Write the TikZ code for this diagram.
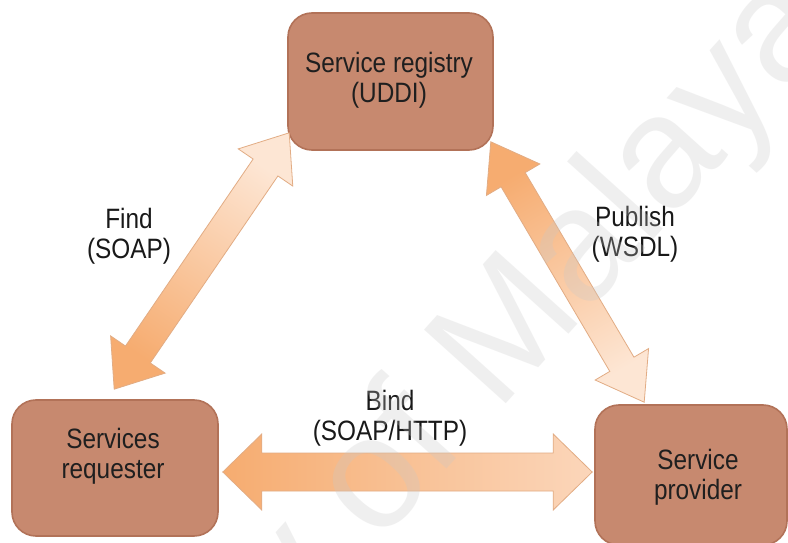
\documentclass[tikz,border=0pt]{standalone}
\usepackage{fontspec}
\setmainfont{Liberation Sans}[FakeStretch=0.87]
\newfontfamily\wmfont{Liberation Sans}
\usetikzlibrary{calc}

\definecolor{boxfill}{RGB}{199,137,111}
\definecolor{boxedge}{RGB}{178,114,88}
\definecolor{arrowedge}{RGB}{226,172,132}
\definecolor{orangedeep}{RGB}{246,172,112}
\definecolor{orangepale}{RGB}{253,230,212}
\definecolor{orangemid}{RGB}{251,214,186}
\definecolor{wmgray}{RGB}{200,200,200}

\tikzset{
  svcbox/.style={draw=boxedge, line width=1.6pt, fill=boxfill,
    rounded corners=24pt, inner sep=0pt},
  boxtext/.style={align=center, font=\fontsize{28}{30}\selectfont, text=black!88},
  flowlabel/.style={align=center, font=\fontsize{28}{30}\selectfont, text=black!90},
  arrowline/.style={draw=arrowedge, line width=0.8pt, line join=miter},
  watermark/.style={text=wmgray, opacity=0.28,
    font=\wmfont\fontsize{160}{165}\selectfont}
}

% Double-headed block arrow from #1 to #2, shaded from colour #3 (at #1)
% to colour #4 (at #2); #5 shaft half-width, #6 head half-width,
% #7 head length (all in pt).
\newcommand\fatarrow[7]{%
  \path let \p1=($(#2)-(#1)$) in
    \pgfextra{\pgfmathsetmacro\fatmp{atan2(\y1,\x1)-90}\xdef\fashang{\fatmp}};
  \coordinate (fa-a) at ($(#1)!#7pt!(#2)$);
  \coordinate (fa-b) at ($(#2)!#7pt!(#1)$);
  \shade[arrowline, bottom color=#3, top color=#4, shading angle=\fashang]
    (#1) -- ($(fa-a)!#6pt!90:(#2)$) -- ($(fa-a)!#5pt!90:(#2)$)
    -- ($(fa-b)!#5pt!-90:(#1)$) -- ($(fa-b)!#6pt!-90:(#1)$)
    -- (#2) -- ($(fa-b)!#6pt!90:(#1)$) -- ($(fa-b)!#5pt!90:(#1)$)
    -- ($(fa-a)!#5pt!-90:(#2)$) -- ($(fa-a)!#6pt!-90:(#2)$) -- cycle;
}

\begin{document}
\begin{tikzpicture}[x=1pt,y=1pt]
\useasboundingbox (0,0) rectangle (788,542);
\fill[white] (0,0) rectangle (788,542);

% the three parties
\node[svcbox, minimum width=205, minimum height=137] (reg)  at (390.5,460.5) {};
\node[svcbox, minimum width=206, minimum height=136] (req)  at (115,74) {};
\node[svcbox, minimum width=192, minimum height=140] (prov) at (691,67) {};

\node[boxtext] (reg-t)  at (389,462) {Service registry\\(UDDI)};
\node[boxtext] (req-t)  at (113,86)  {Services\\requester};
\node[boxtext] (prov-t) at (698,65)  {Service\\provider};

% arrow tips
\coordinate (find-req)  at ($(req.north west)+(103,10)$);
\coordinate (find-reg)  at ($(reg.south west)+(2,18)$);
\coordinate (pub-reg)   at ($(reg.south east)+(-3,9)$);
\coordinate (pub-prov)  at ($(prov.north west)+(50,2)$);
\coordinate (bind-req)  at ($(req.east)+(4,-4)$);
\coordinate (bind-prov) at ($(prov.west)+(-2,3)$);

% interactions
\fatarrow{find-req}{find-reg}{orangedeep}{orangepale}{15}{33}{42}
\fatarrow{pub-reg}{pub-prov}{orangedeep}{orangepale}{14}{31}{44}
\fatarrow{bind-req}{bind-prov}{orangedeep}{orangemid}{19}{38}{39}

\node[flowlabel] (find-l) at (129,306) {Find\\(SOAP)};
\node[flowlabel] (pub-l)  at (635,308) {Publish\\(WSDL)};
\node[flowlabel] (bind-l) at (390,124) {Bind\\(SOAP/HTTP)};

% watermark
\node[watermark, rotate=48, anchor=base east] (wm) at (845,515) {University of Malaya};
\end{tikzpicture}
\end{document}
